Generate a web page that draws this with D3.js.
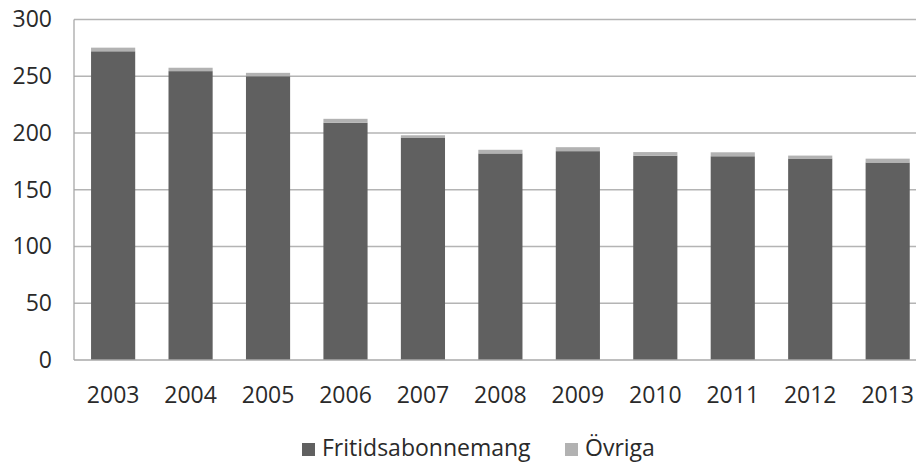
<!DOCTYPE html>
<html><head><meta charset="utf-8">
<script src="https://cdn.jsdelivr.net/npm/d3@7"></script>
<style>body{margin:0;background:#fff}svg{display:block}</style>
</head><body>
<svg id="c" width="916" height="463"></svg>
<script>
const years = ["2003","2004","2005","2006","2007","2008","2009","2010","2011","2012","2013"];
const fritid = [272, 254.5, 250, 209, 196, 182, 184, 180, 179.5, 177.5, 174];
const ovriga = [3.2, 3, 3, 3.5, 2, 3.2, 3.5, 3.2, 3.5, 2.6, 3.4];
const yTicks = [0, 50, 100, 150, 200, 250, 300];
const seriesNames = ["Fritidsabonnemang", "Övriga"];
const colors = ["#606060", "#b2b2b2"];

const svg = d3.select("#c");
const font = "'Open Sans', sans-serif";
const textColor = "#2a2a2a";
const x = d3.scaleBand().domain(years).range([74.4, 926.4]).paddingInner(0.43).paddingOuter(0.215);
const y = d3.scaleLinear().domain([0, 300]).range([360, 19.5]);

// gridlines
svg.append("g").selectAll("line").data(yTicks.filter(d => d > 0)).join("line")
  .attr("x1", 74).attr("x2", 916).attr("y1", d => y(d)).attr("y2", d => y(d))
  .attr("stroke", "#b4b4b4").attr("stroke-width", 1.3);

const stackData = years.map((yr, i) => ({year: yr, f: fritid[i], o: ovriga[i]}));
const stack = d3.stack().keys(["f", "o"])(stackData);
svg.append("g").selectAll("g").data(stack).join("g")
  .attr("fill", (d, i) => colors[i])
  .selectAll("rect").data(d => d).join("rect")
  .attr("x", d => x(d.data.year)).attr("width", x.bandwidth())
  .attr("y", d => y(d[1])).attr("height", d => y(d[0]) - y(d[1]));

// axes lines
svg.append("line").attr("x1", 74).attr("x2", 74).attr("y1", y(300)).attr("y2", y(0))
  .attr("stroke", "#a8a8a8").attr("stroke-width", 1.3);
svg.append("line").attr("x1", 74).attr("x2", 916).attr("y1", y(0)).attr("y2", y(0))
  .attr("stroke", "#a8a8a8").attr("stroke-width", 1.3);

// y labels
const yAxis = d3.axisLeft(y).tickValues(yTicks).tickSize(0).tickPadding(0);
const ga = svg.append("g").attr("transform", "translate(52,0)").call(yAxis);
ga.select(".domain").remove();
ga.selectAll("text").attr("font-family", font).attr("font-size", 23).attr("fill", textColor);

// x labels
const xAxis = d3.axisBottom(x).tickSize(0).tickPadding(0);
const gx = svg.append("g").attr("transform", "translate(0,387)").call(xAxis);
gx.select(".domain").remove();
gx.selectAll("text").attr("font-family", font).attr("font-size", 23).attr("fill", textColor);

// legend
const lg = svg.append("g");
const legX = [302, 565];
seriesNames.forEach((n, i) => {
  lg.append("rect").attr("x", legX[i]).attr("y", 443).attr("width", 13).attr("height", 13).attr("fill", colors[i]);
  lg.append("text").attr("x", legX[i] + 20).attr("y", 456).attr("font-family", font)
    .attr("font-size", 23).attr("fill", textColor).text(n);
});
</script>
</body></html>
